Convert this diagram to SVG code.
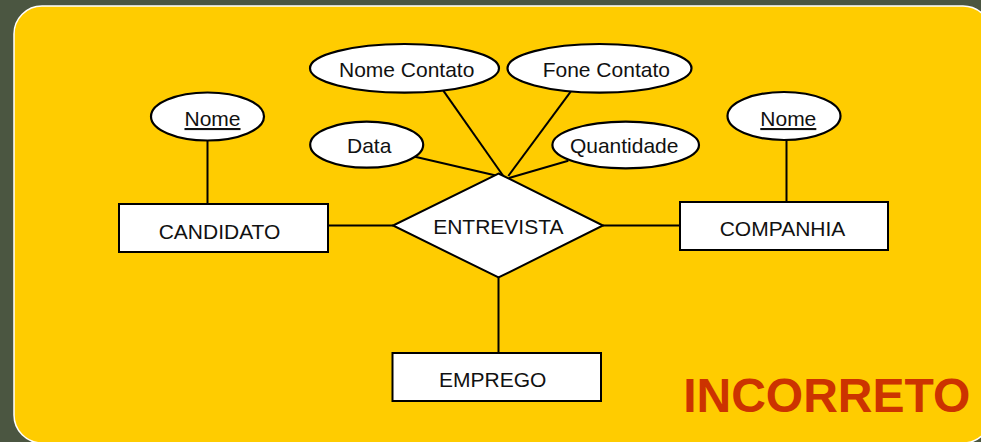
<svg xmlns="http://www.w3.org/2000/svg" width="981" height="442" viewBox="0 0 981 442">
<style>
.ent{fill:#fff;stroke:#000;stroke-width:2}
.att{fill:#fff;stroke:#000;stroke-width:2.2}
.lbl{font-family:"Liberation Sans",Arial,sans-serif;font-size:21px;fill:#111;text-anchor:middle}
.key{text-decoration:underline}
.con line{stroke:#000;stroke-width:2}
</style>
<rect x="0" y="0" width="981" height="442" fill="#4b5641"/>
<rect x="14" y="6" width="977" height="437" rx="28" ry="28" fill="#ffcc00" stroke="#fff" stroke-width="1.5"/>
<g id="connectors" class="con">
<line x1="207.5" y1="140" x2="207.5" y2="204"/>
<line x1="786.5" y1="140" x2="786.5" y2="202"/>
<line x1="328" y1="225.5" x2="393" y2="225.5"/>
<line x1="603" y1="225.5" x2="680" y2="225.5"/>
<line x1="498.5" y1="277" x2="498.5" y2="353"/>
<line x1="443.3" y1="90.7" x2="503.3" y2="176"/>
<line x1="570.7" y1="91.7" x2="508.3" y2="176"/>
<line x1="415" y1="156.7" x2="498" y2="176"/>
<line x1="568.3" y1="160.7" x2="509" y2="178"/>
</g>
<g id="candidato">
<rect class="ent" x="119" y="204" width="209" height="48"/>
<text class="lbl" x="219.5" y="239">CANDIDATO</text>
</g>
<g id="companhia">
<rect class="ent" x="680" y="202" width="208" height="48"/>
<text class="lbl" x="782.5" y="236">COMPANHIA</text>
</g>
<g id="emprego">
<rect class="ent" x="392.5" y="353" width="208.5" height="48"/>
<text class="lbl" x="492.7" y="386.5">EMPREGO</text>
</g>
<g id="entrevista">
<polygon class="ent" points="498.5,173.5 603,225.5 498.5,277.5 393,225.5"/>
<text class="lbl" x="498.3" y="234">ENTREVISTA</text>
</g>
<g id="candidato-nome">
<ellipse class="att" cx="207.5" cy="116.5" rx="56.5" ry="24"/>
<text class="lbl key" x="212.5" y="126">Nome</text>
</g>
<g id="companhia-nome">
<ellipse class="att" cx="784" cy="116" rx="56.5" ry="24"/>
<text class="lbl key" x="788.3" y="126">Nome</text>
</g>
<g id="nome-contato">
<ellipse class="att" cx="404.5" cy="68.3" rx="94.5" ry="24.3"/>
<text class="lbl" x="406.7" y="77">Nome Contato</text>
</g>
<g id="fone-contato">
<ellipse class="att" cx="599.5" cy="68.3" rx="92" ry="24.3"/>
<text class="lbl" x="606.3" y="77">Fone Contato</text>
</g>
<g id="data">
<ellipse class="att" cx="366.7" cy="144.7" rx="56.5" ry="23"/>
<text class="lbl" x="369.2" y="153">Data</text>
</g>
<g id="quantidade">
<ellipse class="att" cx="625.7" cy="145" rx="73.3" ry="23.3"/>
<text class="lbl" x="624.2" y="153">Quantidade</text>
</g>
<text x="826.7" y="411.5" font-family="'Liberation Sans',Arial,sans-serif" font-size="48" font-weight="bold" fill="#cc3300" text-anchor="middle">INCORRETO</text>
</svg>
